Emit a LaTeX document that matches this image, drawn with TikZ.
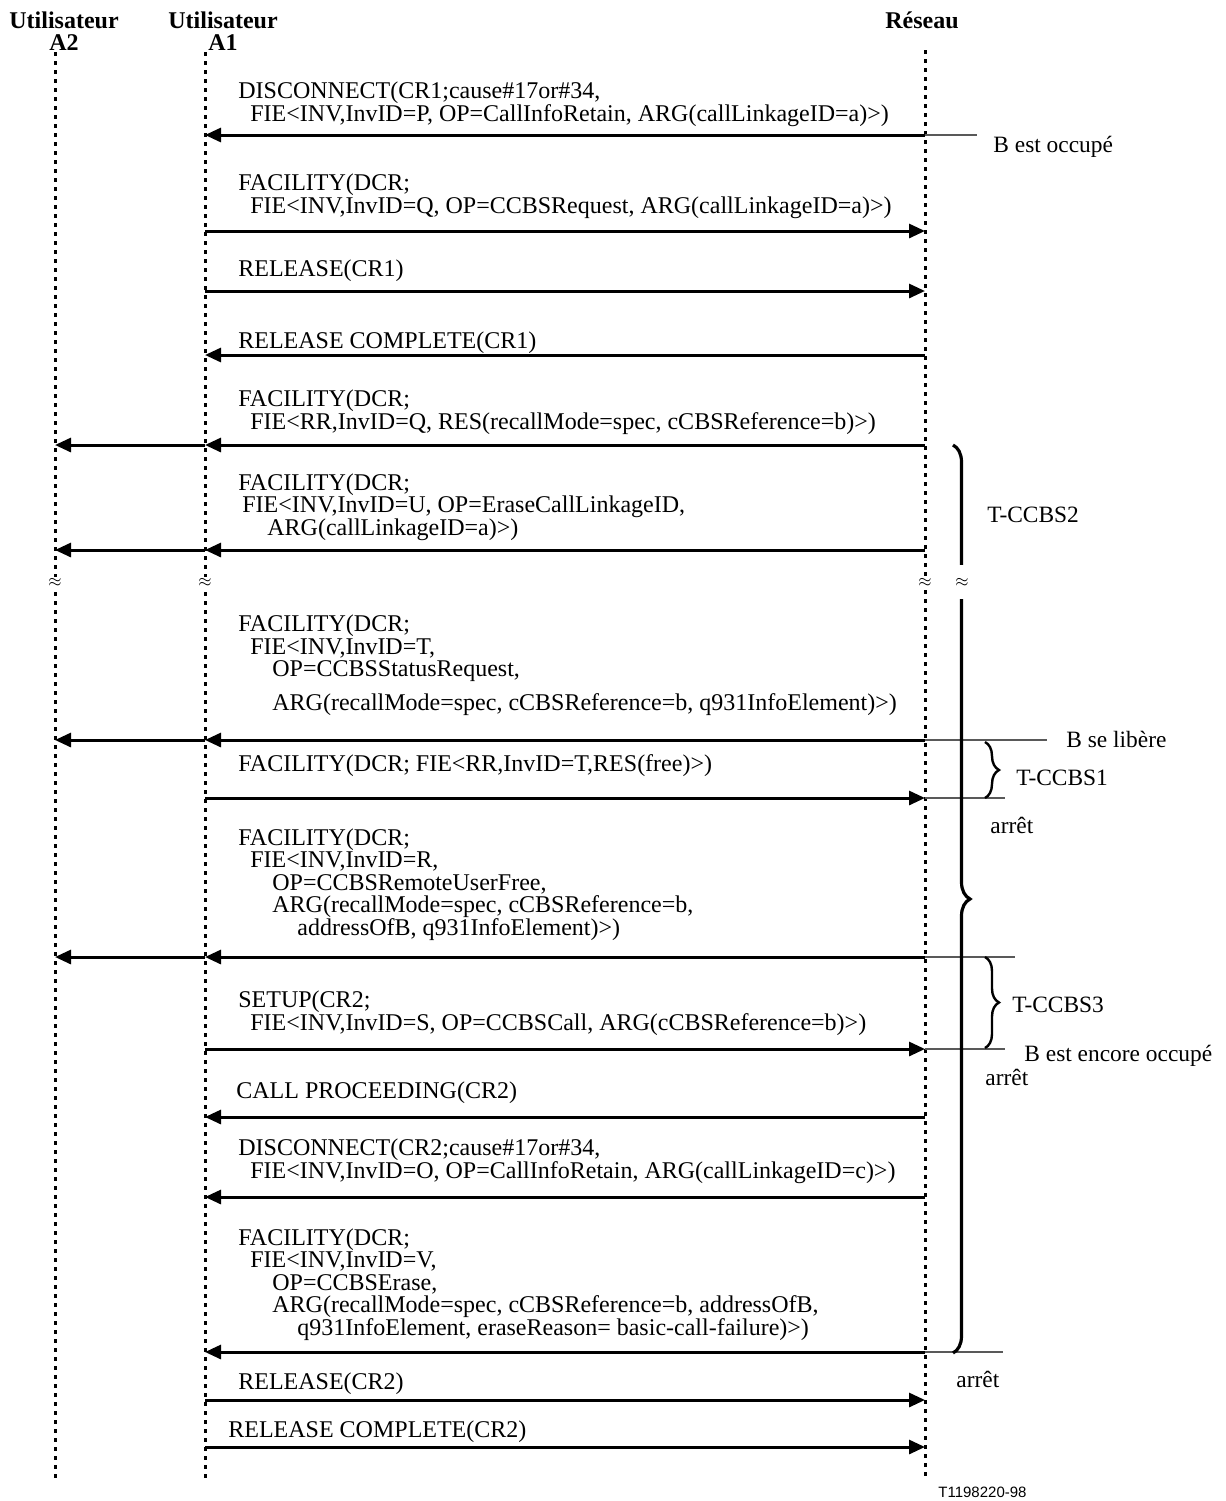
\documentclass[tikz,border=0pt]{standalone}
\usepackage{fontspec}
\setmainfont{Liberation Serif}
\newfontfamily\refsans{Liberation Sans}
\usetikzlibrary{arrows.meta,decorations.pathreplacing}

\begin{document}
\begin{tikzpicture}[
  x=0.5pt, y=-0.5pt,
  actor/.style={font=\fontsize{12}{11}\selectfont\bfseries, align=center, anchor=north, inner sep=0pt},
  lifeline/.style={line width=1.5pt, dash pattern=on 2pt off 2.5pt},
  msg/.style={line width=1.5pt, -{Triangle[length=8pt,width=7pt]}},
  msgtext/.style={anchor=base west, align=left, inner sep=0pt, font=\fontsize{12}{11.2}\selectfont},
  note/.style={anchor=base west, inner sep=0pt, font=\fontsize{11.7}{12}\selectfont},
  tick/.style={line width=0.6pt, draw=black!65},
  bigbrace/.style={decorate, decoration={brace, amplitude=8.5pt}, line width=1.6pt},
  smallbrace/.style={decorate, decoration={brace, amplitude=7pt}, line width=1.2pt},
  gapmark/.style={fill=white, inner sep=0.5pt, font=\fontsize{8}{8}\selectfont}
]
\useasboundingbox (0,0) rectangle (1226,1501);

% acteurs
\node[actor] (userA2) at (64,11) {Utilisateur\\A2};
\node[actor] (userA1) at (223,11) {Utilisateur\\A1};
\node[actor] (network) at (922,11) {Réseau};

% lignes de vie
\coordinate (a2top) at (55,52);
\coordinate (a1top) at (205,52);
\coordinate (nettop) at (925,50);
\coordinate (a2bot) at (55,1478);
\coordinate (a1bot) at (205,1478);
\coordinate (netbot) at (925,1478);
\draw[lifeline] (a2top) -- (a2bot);
\draw[lifeline] (a1top) -- (a1bot);
\draw[lifeline] (nettop) -- (netbot);

% hauteurs des messages
\foreach \n/\y in {m1/135, m2/231, m3/291, m4/355, m5/445, m6/550, m7/740, m8/798,
                   m9/957, m10/1049, m11/1117, m12/1197, m13/1352, m14/1400, m15/1447, gapline/582}
  \coordinate (\n) at (0,\y);

% reseau -> A1
\foreach \n in {m1,m4,m5,m6,m7,m9,m11,m12,m13}
  \draw[msg] (nettop |- \n) -- (a1top |- \n);
% A1 -> A2
\foreach \n in {m5,m6,m7,m9}
  \draw[msg] (a1top |- \n) -- (a2top |- \n);
% A1 -> reseau
\foreach \n in {m2,m3,m8,m10,m14,m15}
  \draw[msg] (a1top |- \n) -- (nettop |- \n);

% textes des messages (ancre sur la derniere ligne)
\node[msgtext] (t1) at (238,121) {DISCONNECT(CR1;cause\#17or\#34,\\\hspace*{6pt}FIE<INV,InvID=P, OP=CallInfoRetain, ARG(callLinkageID=a)>)};
\node[msgtext] (t2) at (238,213) {FACILITY(DCR;\\\hspace*{6pt}FIE<INV,InvID=Q, OP=CCBSRequest, ARG(callLinkageID=a)>)};
\node[msgtext] (t3) at (238,276) {RELEASE(CR1)};
\node[msgtext] (t4) at (238,348) {RELEASE COMPLETE(CR1)};
\node[msgtext] (t5) at (238,429) {FACILITY(DCR;\\\hspace*{6pt}FIE<RR,InvID=Q, RES(recallMode=spec, cCBSReference=b)>)};
\node[msgtext] (t6) at (238,535) {FACILITY(DCR;\\\hspace*{2pt}FIE<INV,InvID=U, OP=EraseCallLinkageID,\\\hspace*{14.5pt}ARG(callLinkageID=a)>)};
\node[msgtext] (t7) at (238,710) {FACILITY(DCR;\\\hspace*{6pt}FIE<INV,InvID=T,\\\hspace*{17pt}OP=CCBSStatusRequest,\\[5.5pt]\hspace*{17pt}ARG(recallMode=spec, cCBSReference=b, q931InfoElement)>)};
\node[msgtext] (t8) at (238,771) {FACILITY(DCR; FIE<RR,InvID=T,RES(free)>)};
\node[msgtext] (t9) at (238,935) {FACILITY(DCR;\\\hspace*{6pt}FIE<INV,InvID=R,\\\hspace*{17pt}OP=CCBSRemoteUserFree,\\\hspace*{17pt}ARG(recallMode=spec, cCBSReference=b,\\\hspace*{29.5pt}addressOfB, q931InfoElement)>)};
\node[msgtext] (t10) at (238,1030) {SETUP(CR2;\\\hspace*{6pt}FIE<INV,InvID=S, OP=CCBSCall, ARG(cCBSReference=b)>)};
\node[msgtext] (t11) at (236,1098) {CALL PROCEEDING(CR2)};
\node[msgtext] (t12) at (238,1178) {DISCONNECT(CR2;cause\#17or\#34,\\\hspace*{6pt}FIE<INV,InvID=O, OP=CallInfoRetain, ARG(callLinkageID=c)>)};
\node[msgtext] (t13) at (238,1335) {FACILITY(DCR;\\\hspace*{6pt}FIE<INV,InvID=V,\\\hspace*{17pt}OP=CCBSErase,\\\hspace*{17pt}ARG(recallMode=spec, cCBSReference=b, addressOfB,\\\hspace*{29.5pt}q931InfoElement, eraseReason= basic-call-failure)>)};
\node[msgtext] (t14) at (238,1389) {RELEASE(CR2)};
\node[msgtext] (t15) at (228,1437) {RELEASE COMPLETE(CR2)};

% traits de repere cote reseau
\draw[tick] (nettop |- m1) -- ++(52,0);
\draw[tick] (nettop |- m7) -- ++(122,0);
\draw[tick] (nettop |- m8) -- ++(80,0);
\draw[tick] (nettop |- m9) -- ++(90,0);
\draw[tick] (nettop |- m10) -- ++(80,0);
\draw[tick] (nettop |- m13) -- ++(78,0);

% temporisateurs
\coordinate (bracetop) at (953,445);
\coordinate (bracebot) at (953,1353);
\draw[bigbrace] (bracetop) -- (bracebot);
\coordinate (ccbsonetop) at (985,742);
\coordinate (ccbsonebot) at (985,798);
\draw[smallbrace] (ccbsonetop) -- (ccbsonebot);
\coordinate (ccbsthreetop) at (985,957);
\coordinate (ccbsthreebot) at (985,1048);
\draw[smallbrace] (ccbsthreetop) -- (ccbsthreebot);

% coupures
\node[gapmark, minimum height=17pt] (bracegap) at (962,582) {$\approx$};
\node[gapmark] (a2gap) at (a2top |- gapline) {$\approx$};
\node[gapmark] (a1gap) at (a1top |- gapline) {$\approx$};
\node[gapmark] (netgap) at (nettop |- gapline) {$\approx$};

% annotations
\node[note] (busy) at (993,152) {B est occupé};
\node[note] (ccbstwo) at (987,522) {T-CCBS2};
\node[note] (freed) at (1066,747) {B se libère};
\node[note] (ccbsone) at (1016,785) {T-CCBS1};
\node[note] (stopone) at (990,833) {arrêt};
\node[note] (ccbsthree) at (1012,1012) {T-CCBS3};
\node[note] (stillbusy) at (1024,1061) {B est encore occupé};
\node[note] (stoptwo) at (985,1085) {arrêt};
\node[note] (stopthree) at (956,1387) {arrêt};
\node[note, font=\refsans\fontsize{7.5}{8}\selectfont] (figref) at (938,1497) {T1198220-98};
\end{tikzpicture}
\end{document}
